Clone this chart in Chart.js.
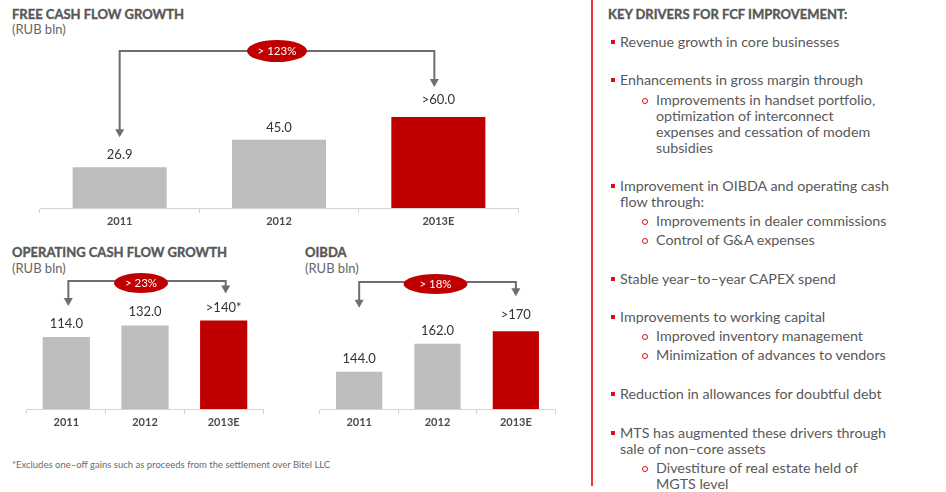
<!DOCTYPE html>
<html>
<head>
<meta charset="utf-8">
<script src="https://cdn.jsdelivr.net/npm/chart.js@4"></script>
<style>
  html,body{margin:0;padding:0;background:#fff;}
  body{width:946px;height:492px;position:relative;overflow:hidden;font-family:Lato,"Open Sans",sans-serif;color:#595959;}
  .abs{position:absolute;white-space:nowrap;}
  .ttl{font-weight:bold;font-size:13px;color:#575757;line-height:16px;-webkit-text-stroke:0.35px #575757;}
  .sub{font-size:13px;color:#666;line-height:16px;}
  canvas{position:absolute;}
  .vline{position:absolute;left:591px;top:0;width:2px;height:486px;background:#e8383d;}
  .txt{font-size:14.3px;color:#595959;line-height:16px;}
  .b1::before{content:"";position:absolute;left:-9px;top:6px;width:4px;height:4px;background:#e30613;}
  .b2::before{content:"";position:absolute;left:-14px;top:6px;width:4px;height:4px;border:1px solid #e30613;border-radius:50%;}
  .foot{font-size:9.5px;color:#6a6a6a;line-height:12px;}
</style>
</head>
<body>
<div class="abs ttl" style="left:12px;top:6px;">FREE CASH FLOW GROWTH</div>
<div class="abs sub" style="left:12px;top:21px;">(RUB bln)</div>
<div class="abs ttl" style="left:12px;top:244px;">OPERATING CASH FLOW GROWTH</div>
<div class="abs sub" style="left:12px;top:260px;">(RUB bln)</div>
<div class="abs ttl" style="left:305px;top:244px;">OIBDA</div>
<div class="abs sub" style="left:305px;top:260px;">(RUB bln)</div>

<canvas id="c1" width="560" height="240" style="left:0;top:0;"></canvas>
<canvas id="c2" width="290" height="200" style="left:0;top:240px;"></canvas>
<canvas id="c3" width="290" height="200" style="left:290px;top:240px;"></canvas>

<div class="abs foot" style="left:12px;top:459px;">*Excludes one–off gains such as proceeds from the settlement over Bitel LLC</div>

<div class="vline"></div>
<div class="abs ttl" style="left:608px;top:6px;">KEY DRIVERS FOR FCF IMPROVEMENT:</div>
<div id="drivers"></div>

<script>
// ---- data ----
const categories = ["2011", "2012", "2013E"];
const fcfValues = [26.9, 45.0, 60.0];
const fcfLabels = ["26.9", "45.0", ">60.0"];
const ocfValues = [114.0, 132.0, 140.0];
const ocfLabels = ["114.0", "132.0", ">140*"];
const oibdaValues = [144.0, 162.0, 170.0];
const oibdaLabels = ["144.0", "162.0", ">170"];
const growthTexts = ["> 123%", "> 23%", "> 18%"];
const driverLines = [
  [1, "Revenue growth in core businesses", 34],
  [1, "Enhancements in gross margin through", 72],
  [2, "Improvements in handset portfolio,\noptimization of interconnect\nexpenses and cessation of modem\nsubsidies", 92],
  [1, "Improvement in OIBDA and operating cash\nflow through:", 178],
  [2, "Improvements in dealer commissions", 213],
  [2, "Control of G&A expenses", 232],
  [1, "Stable year–to–year CAPEX spend", 271],
  [1, "Improvements to working capital", 309],
  [2, "Improved inventory management", 328],
  [2, "Minimization of advances to vendors", 347],
  [1, "Reduction in allowances for doubtful debt", 386],
  [1, "MTS has augmented these drivers through\nsale of non–core assets", 425],
  [2, "Divestiture of real estate held of\nMGTS level", 460]
];

// ---- text panel ----
const host = document.getElementById('drivers');
driverLines.forEach(([lvl, text, top]) => {
  const d = document.createElement('div');
  d.className = 'abs txt ' + (lvl === 1 ? 'b1' : 'b2');
  d.style.left = (lvl === 1 ? 620 : 656) + 'px';
  d.style.top = top + 'px';
  d.style.whiteSpace = 'pre';
  d.textContent = text;
  host.appendChild(d);
});

// ---- annotation plugin ----
const annot = {
  id: 'annot',
  afterDatasetsDraw(chart, args, o) {
    const ctx = chart.ctx;
    const bars = chart.getDatasetMeta(0).data;
    ctx.save();
    ctx.font = '13px Lato';
    ctx.fillStyle = '#333';
    ctx.textAlign = 'center';
    ctx.textBaseline = 'middle';
    bars.forEach((b, i) => ctx.fillText(o.labels[i], b.x, b.y - o.labelGaps[i]));
    const x1 = bars[0].x + o.tipDx[0], x2 = bars[bars.length - 1].x + o.tipDx[1];
    const t1 = bars[0].y - o.tipGaps[0], t2 = bars[bars.length - 1].y - o.tipGaps[1];
    const ly = o.lineY;
    ctx.strokeStyle = '#6e6e6e';
    ctx.lineWidth = 2;
    ctx.beginPath();
    ctx.moveTo(x1, t1 - 7); ctx.lineTo(x1, ly); ctx.lineTo(x2, ly); ctx.lineTo(x2, t2 - 7);
    ctx.stroke();
    ctx.fillStyle = '#6e6e6e';
    [[x1, t1], [x2, t2]].forEach(([x, t]) => {
      ctx.beginPath(); ctx.moveTo(x - 4.5, t - 8); ctx.lineTo(x + 4.5, t - 8); ctx.lineTo(x, t); ctx.closePath(); ctx.fill();
    });
    const cx = (x1 + x2) / 2 + o.ellDx, cy = ly + o.ellDy;
    ctx.fillStyle = '#c00000';
    ctx.beginPath(); ctx.ellipse(cx, cy, o.rx, o.ry, 0, 0, Math.PI * 2); ctx.fill();
    ctx.fillStyle = '#fff';
    ctx.font = '11.5px Lato';
    ctx.fillText(o.text, cx, cy + 0.5);
    ctx.restore();
  }
};

function makeChart(id, values, labels, ymin, ymax, pad, barPct, ann) {
  new Chart(document.getElementById(id), {
    type: 'bar',
    data: {
      labels: categories,
      datasets: [{
        data: values,
        backgroundColor: ['#bcbdbc', '#bcbdbc', '#c00000'],
        borderWidth: 0,
        categoryPercentage: 1,
        barPercentage: barPct
      }]
    },
    options: {
      responsive: false,
      animation: false,
      devicePixelRatio: 1,
      layout: { padding: pad },
      plugins: { legend: { display: false }, tooltip: { enabled: false }, annot: ann },
      scales: {
        y: { display: false, min: ymin, max: ymax },
        x: {
          grid: { offset: true, drawOnChartArea: false, drawTicks: true, tickLength: 5, color: '#d4d4d4' },
          border: { display: true, color: '#d4d4d4', width: 1 },
          ticks: { font: { family: 'Lato', weight: 'bold', size: 11 }, color: '#4a4a4a', padding: 2 },
          afterFit(s) { s.height = 30; }
        }
      }
    },
    plugins: [annot]
  });
}

makeChart('c1', fcfValues, fcfLabels, 0, 100, { left: 40, right: 42, top: 56.5, bottom: 2 }, 0.59,
  { labels: fcfLabels, labelGaps: [12, 12, 17.5], tipGaps: [30, 30], tipDx: [0, -4], lineY: 51, ellDx: 0, ellDy: 0, rx: 30, ry: 11, text: growthTexts[0] });
makeChart('c2', ocfValues, ocfLabels, 0, 200, { left: 27, right: 27, top: 42.6, bottom: 1 }, 0.6,
  { labels: ocfLabels, labelGaps: [13, 14, 13], tipGaps: [31, 27], tipDx: [2, 2], lineY: 41, ellDx: -6, ellDy: 2, rx: 27, ry: 10, text: growthTexts[1] });
makeChart('c3', oibdaValues, oibdaLabels, 120, 200, { left: 30, right: 25, top: 44.5, bottom: 1 }, 0.59,
  { labels: oibdaLabels, labelGaps: [13, 13, 16], tipGaps: [64, 35], tipDx: [0, 0], lineY: 42, ellDx: -2, ellDy: 2, rx: 32, ry: 10, text: growthTexts[2] });
</script>
</body>
</html>
